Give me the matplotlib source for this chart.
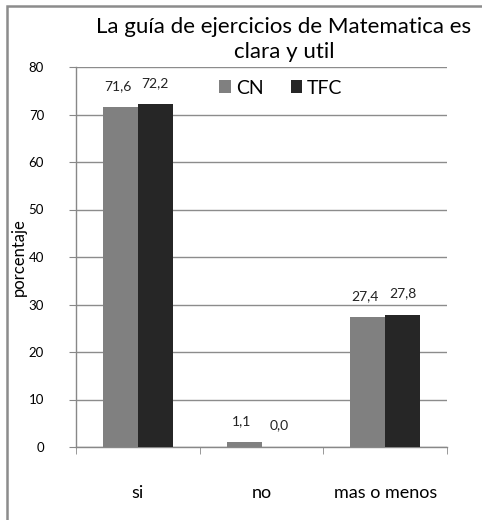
import numpy as np
import matplotlib.pyplot as plt
from matplotlib.patches import Rectangle

categories = ["si", "no", "mas o menos"]
cn = [71.6, 1.1, 27.4]
tfc = [72.2, 0.0, 27.8]
cn_labels = ["71,6", "1,1", "27,4"]
tfc_labels = ["72,2", "0,0", "27,8"]

plt.rcParams['font.family'] = ['Lato', 'DejaVu Sans']

fig = plt.figure(figsize=(4.82, 5.2), dpi=100)
# chart border (cropped on the right and bottom)
fig.patches.append(Rectangle((7 / 482, -0.1), 1.2, 0.1 + 1 - 6 / 520, transform=fig.transFigure,
                             fill=False, edgecolor='#8c8c8c', linewidth=1.8))

ax = fig.add_axes([76 / 482, 1 - 447 / 520, 371 / 482, 380 / 520])
x = np.arange(len(categories))
w = 0.282
b1 = ax.bar(x - w / 2, cn, w, color='#808080', label='CN', zorder=3)
b2 = ax.bar(x + w / 2, tfc, w, color='#262626', label='TFC', zorder=3)

for rect, lab in zip(b1, cn_labels):
    ax.text(rect.get_x() + rect.get_width() / 2 - 0.02, rect.get_height() + 4.3, lab,
            ha='center', va='center', fontsize=10, color='#222222')
for rect, lab in zip(b2, tfc_labels):
    ax.text(rect.get_x() + rect.get_width() / 2, rect.get_height() + 4.5, lab,
            ha='center', va='center', fontsize=10, color='#222222')

ax.set_xlim(-0.5, 2.5)
ax.set_ylim(0, 80)
ax.set_yticks(range(0, 81, 10))
ax.set_xticks(x)
ax.set_xticklabels(categories, fontsize=13)
ax.set_xticks([-0.5, 0.5, 1.5, 2.5], minor=True)
ax.tick_params(axis='x', which='major', length=0, pad=27)
ax.tick_params(axis='x', which='minor', length=5, color='#888888', direction='out')
ax.tick_params(axis='y', labelsize=9.5, length=5, color='#888888', pad=18)
ax.grid(axis='y', color='#8c8c8c', linewidth=1, zorder=0)
for s in ['top', 'right']:
    ax.spines[s].set_visible(False)
for s in ['left', 'bottom']:
    ax.spines[s].set_color('#888888')
    ax.spines[s].set_linewidth(1)
ax.set_ylabel('porcentaje', fontsize=12)
ax.yaxis.set_label_coords(-49 / 371, 0.5)

ax.legend(loc='center', bbox_to_anchor=(278 / 371 - 76 / 371 + 0.008, 1 - 21 / 380), ncol=2,
          frameon=False, fontsize=14, handlelength=0.6, handleheight=0.6,
          handletextpad=0.25, columnspacing=1.4, borderpad=0)

fig.text(284 / 482, 1 - 27 / 520, 'La guía de ejercicios de Matematica es',
         ha='center', va='center', fontsize=16)
fig.text(284 / 482, 1 - 52 / 520, 'clara y util',
         ha='center', va='center', fontsize=16)

fig.savefig('out.png', dpi=100)
